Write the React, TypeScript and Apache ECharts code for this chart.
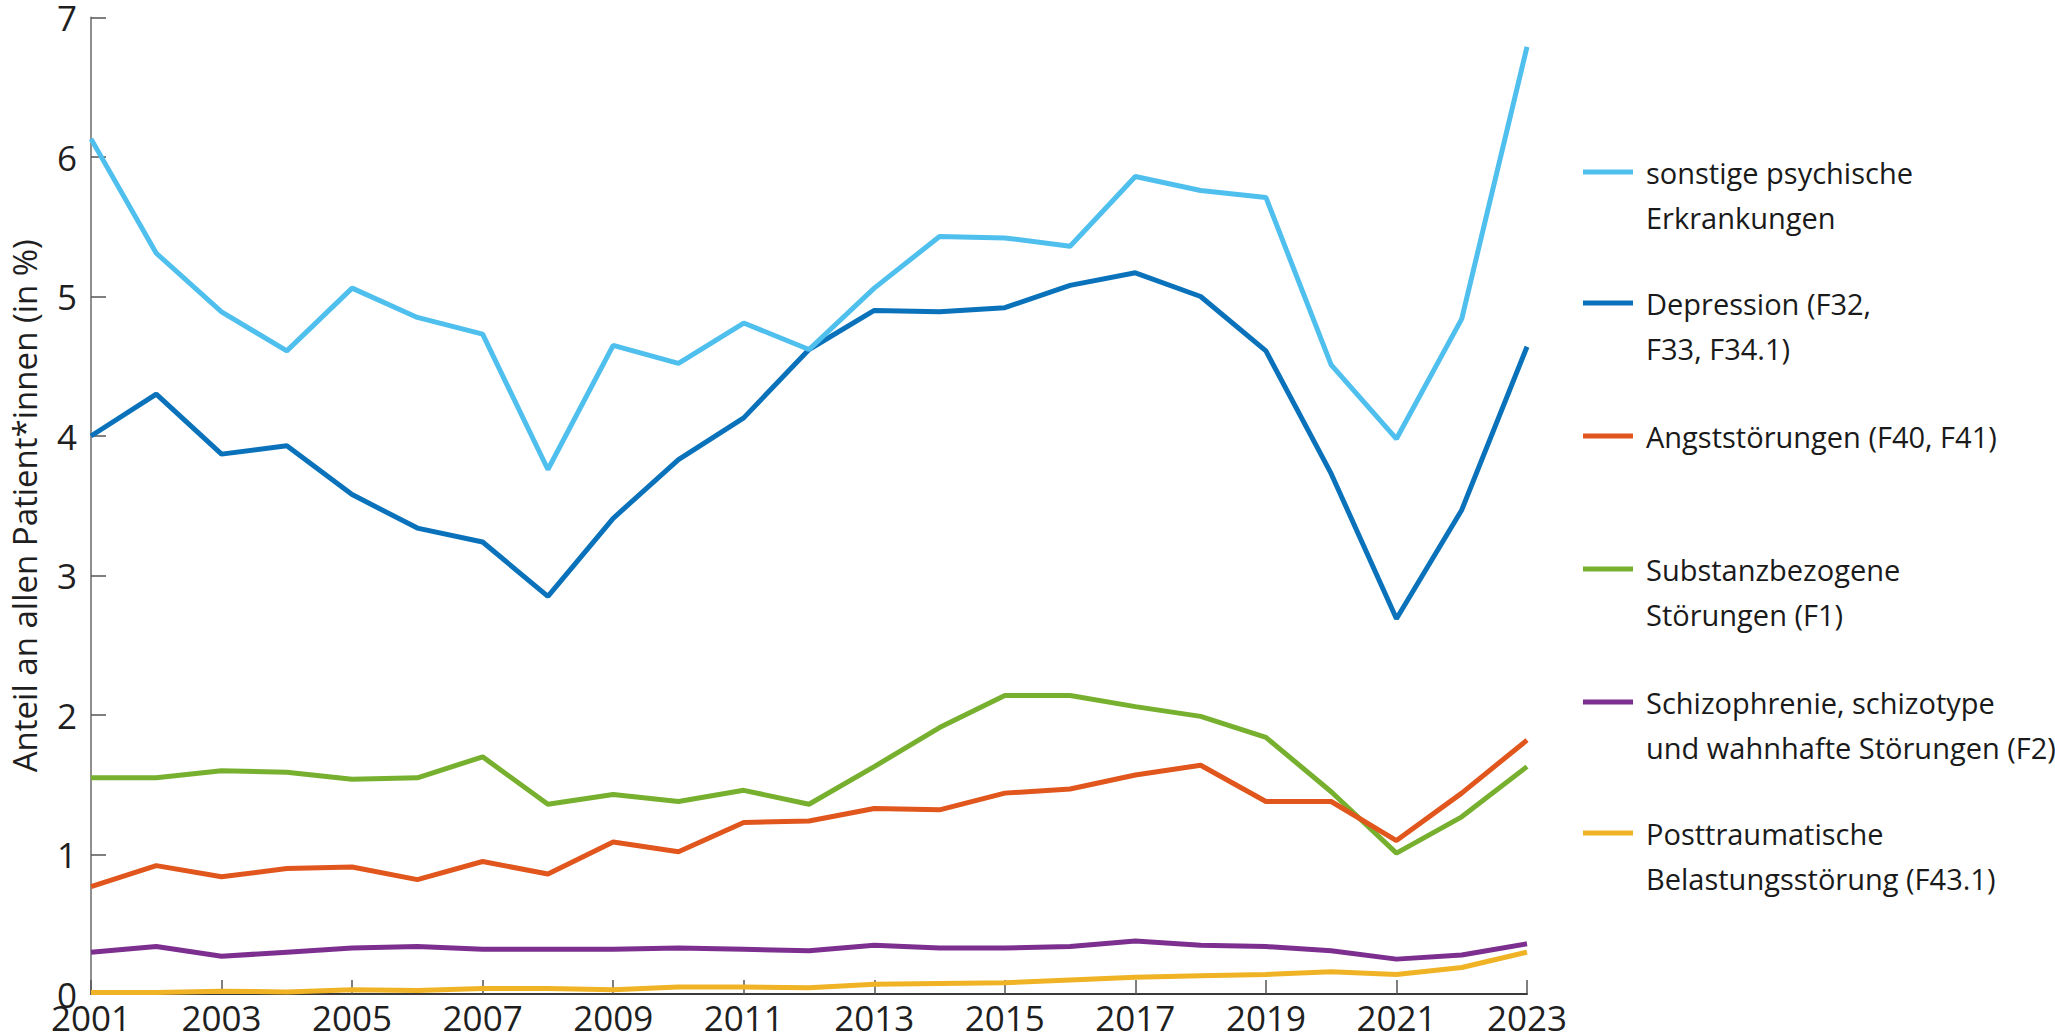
import React, { useEffect, useRef } from "react";
import * as echarts from "echarts";

const years = ["2001","2002","2003","2004","2005","2006","2007","2008","2009","2010","2011","2012","2013","2014","2015","2016","2017","2018","2019","2020","2021","2022","2023"];

const sonstige = [6.13,5.31,4.89,4.61,5.06,4.85,4.73,3.76,4.65,4.52,4.81,4.62,5.06,5.43,5.42,5.36,5.86,5.76,5.71,4.51,3.98,4.84,6.79];
const depression = [4.0,4.3,3.87,3.93,3.58,3.34,3.24,2.85,3.41,3.83,4.13,4.62,4.9,4.89,4.92,5.08,5.17,5.0,4.61,3.73,2.69,3.47,4.64];
const angst = [0.77,0.92,0.84,0.9,0.91,0.82,0.95,0.86,1.09,1.02,1.23,1.24,1.33,1.32,1.44,1.47,1.57,1.64,1.38,1.38,1.1,1.44,1.82];
const substanz = [1.55,1.55,1.6,1.59,1.54,1.55,1.7,1.36,1.43,1.38,1.46,1.36,1.63,1.91,2.14,2.14,2.06,1.99,1.84,1.45,1.01,1.27,1.63];
const schizo = [0.3,0.34,0.27,0.3,0.33,0.34,0.32,0.32,0.32,0.33,0.32,0.31,0.35,0.33,0.33,0.34,0.38,0.35,0.34,0.31,0.25,0.28,0.36];
const ptbs = [0.01,0.01,0.02,0.015,0.03,0.025,0.04,0.04,0.03,0.05,0.05,0.045,0.07,0.075,0.08,0.1,0.12,0.13,0.14,0.16,0.14,0.19,0.3];

const seriesNames = [
  "sonstige psychische\nErkrankungen",
  "Depression (F32,\nF33, F34.1)",
  "Angststörungen (F40, F41)",
  "Substanzbezogene\nStörungen (F1)",
  "Schizophrenie, schizotype\nund wahnhafte Störungen (F2)",
  "Posttraumatische\nBelastungsstörung (F43.1)",
];
const seriesData = [sonstige, depression, angst, substanz, schizo, ptbs];
const colors = ["#4fbfee", "#0a72ba", "#e0561d", "#77b02f", "#7c2f8f", "#efb325"];
const legendY = [172, 303, 436, 569, 702, 833];

const FONT = "'Open Sans', sans-serif";

export default function App() {
  const ref = useRef<HTMLDivElement>(null);
  useEffect(() => {
    if (!ref.current) return;
    const chart = echarts.init(ref.current, undefined, { renderer: "svg" });
    const graphics: any[] = [];
    seriesNames.forEach((n, i) => {
      graphics.push({
        type: "line",
        shape: { x1: 1583, y1: legendY[i], x2: 1633, y2: legendY[i] },
        style: { stroke: colors[i], lineWidth: 5 },
      });
      graphics.push({
        type: "text",
        x: 1646,
        y: legendY[i] - 22.5,
        style: {
          text: n,
          font: `29px ${FONT}`,
          fill: "#1a1a1a",
          lineHeight: 45,
          verticalAlign: "top",
          align: "left",
        },
      });
    });
    chart.setOption({
      animation: false,
      backgroundColor: "#ffffff",
      grid: { left: 78, right: 528, top: 14, bottom: 42, containLabel: false },
      xAxis: {
        type: "category",
        data: years,
        boundaryGap: false,
        axisLine: { show: true, lineStyle: { color: "#3a3a3a", width: 2 } },
        axisTick: { show: true, inside: true, length: 14, interval: 1, lineStyle: { color: "#555", width: 1.5 } },
        axisLabel: { interval: 1, margin: 6, fontSize: 35, fontFamily: FONT, color: "#1f1f1f" },
        splitLine: { show: false },
      },
      yAxis: {
        type: "value",
        min: 0,
        max: 7,
        interval: 1,
        name: "Anteil an allen Patient*innen (in %)",
        nameLocation: "middle",
        nameGap: 50,
        nameTextStyle: { fontSize: 33, fontFamily: FONT, color: "#1f1f1f" },
        axisLine: { show: true, lineStyle: { color: "#8f8f8f", width: 2 } },
        axisTick: { show: true, inside: true, length: 15, lineStyle: { color: "#555", width: 1.5 } },
        axisLabel: { margin: 14, fontSize: 35, fontFamily: FONT, color: "#1f1f1f" },
        splitLine: { show: false },
      },
      series: seriesNames.map((n, i) => ({
        name: n,
        type: "line",
        data: seriesData[i],
        symbol: "none",
        lineStyle: { color: colors[i], width: 5 },
        itemStyle: { color: colors[i] },
        z: 10 - i,
      })),
      graphic: graphics,
    });
    return () => chart.dispose();
  }, []);
  return (
    <div
      ref={ref}
      style={{ position: "fixed", left: 0, top: 0, width: 2055, height: 1036, background: "#fff" }}
    />
  );
}
